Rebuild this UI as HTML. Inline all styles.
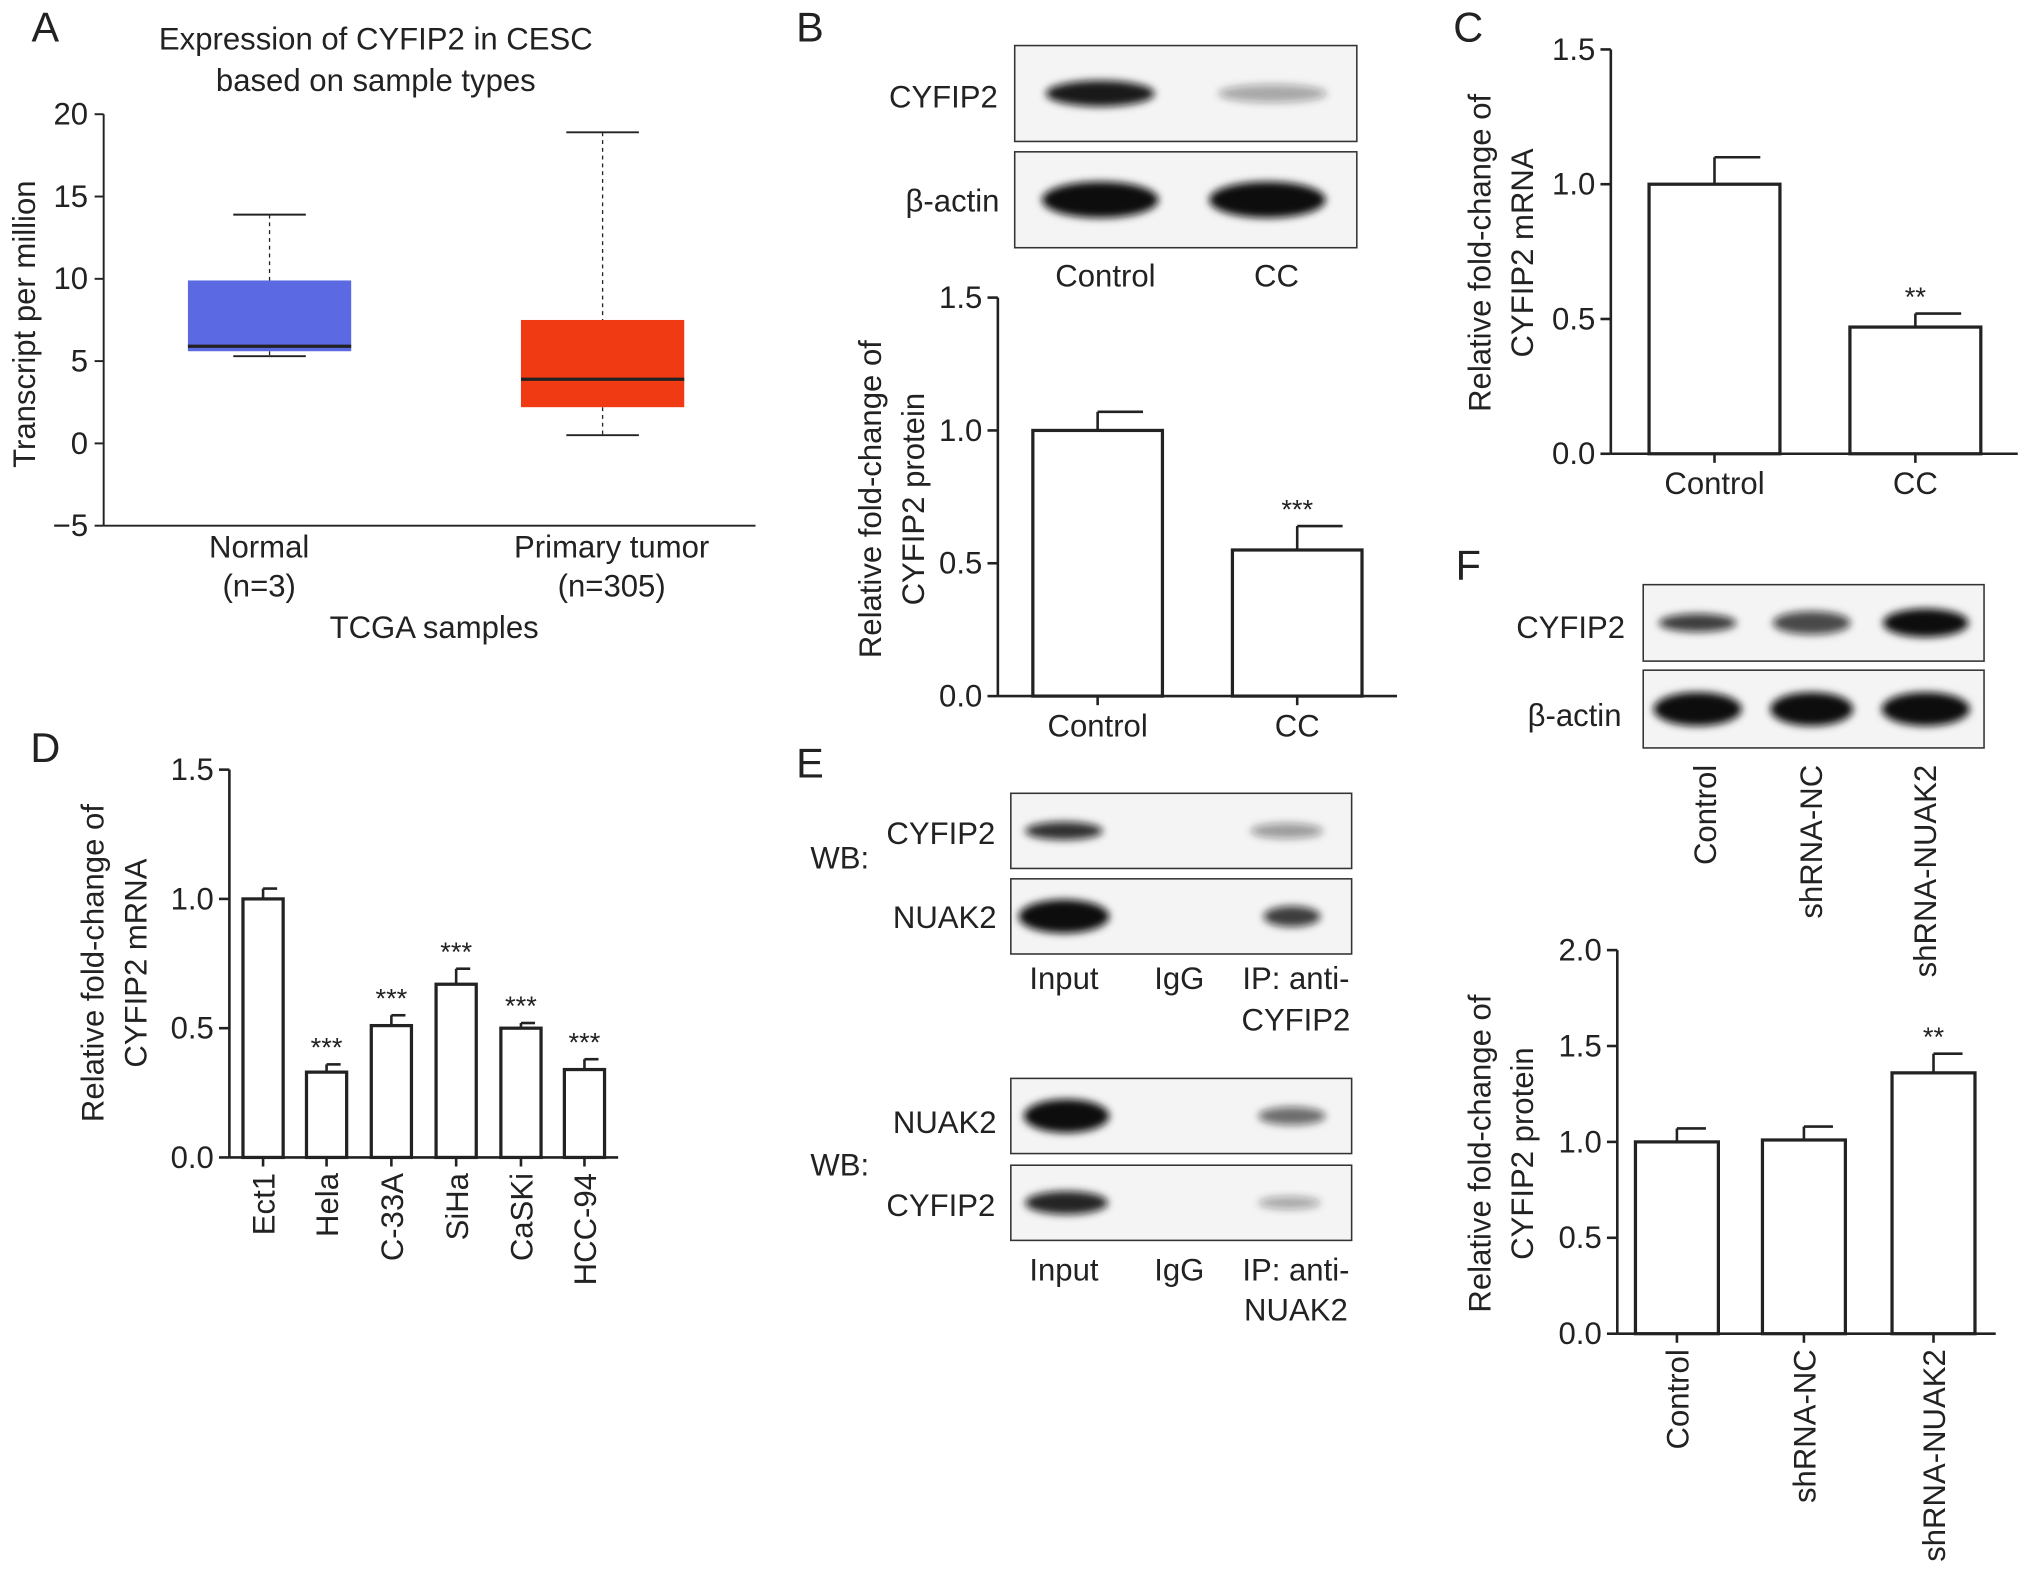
<!DOCTYPE html>
<html><head><meta charset="utf-8">
<style>
html,body{margin:0;padding:0;background:#fff;}
svg{display:block;font-family:"Liberation Sans",Arial,sans-serif;}
text{fill:#222;}
</style></head>
<body>
<svg id="fig" width="2032" height="1584" viewBox="0 0 1568 1222" xmlns="http://www.w3.org/2000/svg">
<defs>
<filter id="blur" x="-20%" y="-50%" width="140%" height="200%"><feGaussianBlur stdDeviation="3"/></filter>
</defs>
<g id="root"></g>
</svg>
<script>
// ---- Panel A data ----
const aCategories = ["Normal","Primary tumor"];
const aMin = [5.3, 0.5];
const aQ1 = [5.6, 2.2];
const aMedian = [5.9, 3.9];
const aQ3 = [9.9, 7.5];
const aMax = [13.9, 18.9];
const aTicks = [20,15,10,5,0,-5];
// ---- Panel B data ----
const bCategories = ["Control","CC"];
const bValues = [1.0, 0.55];
const bErrors = [0.07, 0.09];
const bStars = ["", "***"];
const bTicks = [0, 0.5, 1.0, 1.5];
// ---- Panel C data ----
const cCategories = ["Control","CC"];
const cValues = [1.0, 0.47];
const cErrors = [0.1, 0.05];
const cStars = ["", "**"];
const cTicks = [0, 0.5, 1.0, 1.5];
// ---- Panel D data ----
const dCategories = ["Ect1","Hela","C-33A","SiHa","CaSKi","HCC-94"];
const dValues = [1.0, 0.33, 0.51, 0.67, 0.50, 0.34];
const dErrors = [0.04, 0.03, 0.04, 0.06, 0.02, 0.04];
const dStars = ["", "***","***","***","***","***"];
const dTicks = [0, 0.5, 1.0, 1.5];
// ---- Panel F data ----
const fCategories = ["Control","shRNA-NC","shRNA-NUAK2"];
const fValues = [1.0, 1.01, 1.36];
const fErrors = [0.07, 0.07, 0.1];
const fStars = ["", "", "**"];
const fTicks = [0, 0.5, 1.0, 1.5, 2.0];

const FS=24;
const NS="http://www.w3.org/2000/svg";
const root=document.getElementById('root');
function el(tag, attrs, parent){const e=document.createElementNS(NS,tag);for(const k in attrs)e.setAttribute(k,attrs[k]);(parent||root).appendChild(e);return e;}
function txt(x,y,s,size,anchor,parent,rot){const t=el('text',{x:x,y:y,'font-size':size,'text-anchor':anchor||'middle'},parent);if(rot)t.setAttribute('transform','rotate('+rot+' '+x+' '+y+')');t.textContent=s;return t;}
function line(x1,y1,x2,y2,w,parent){return el('line',{x1:x1,y1:y1,x2:x2,y2:y2,stroke:'#222','stroke-width':w||2},parent);}

// panel letters
[["A",35,32],["B",625,32],["C",1133,32],["D",35,588],["E",625,600],["F",1133,447]].forEach(p=>{
 const t=txt(p[1],p[2],p[0],32,'middle');
 
 
});

// ---- Panel A ----
(function(){
 const g=el('g',{});
 
 
 const y0=342, k=12.7, x0=80, x1=583;
 const Y=v=>y0-v*k;
 const centers=[208,465], halfW=63, colors=["#5b69e3","#f03a14"];
 line(x0,Y(20),x0,Y(-5),1.5,g); line(x0,Y(-5),x1,Y(-5),1.5,g);
 aTicks.forEach(t=>{line(x0-7,Y(t),x0,Y(t),1.5,g);txt(x0-12,Y(t)+8,t<0?"\u22125":String(t),FS,'end',g);});
 aCategories.forEach((c,i)=>{
  const cx=centers[i];
  el('line',{x1:cx,y1:Y(aMax[i]),x2:cx,y2:Y(aQ3[i]),stroke:'#222','stroke-width':1,'stroke-dasharray':'3,3'},g);
  el('line',{x1:cx,y1:Y(aQ1[i]),x2:cx,y2:Y(aMin[i]),stroke:'#222','stroke-width':1,'stroke-dasharray':'3,3'},g);
  line(cx-28,Y(aMax[i]),cx+28,Y(aMax[i]),1.5,g);
  line(cx-28,Y(aMin[i]),cx+28,Y(aMin[i]),1.5,g);
  const r=el('rect',{x:cx-halfW,y:Y(aQ3[i]),width:halfW*2,height:Y(aQ1[i])-Y(aQ3[i]),fill:colors[i]},g);
  
  
  line(cx-halfW,Y(aMedian[i]),cx+halfW,Y(aMedian[i]),2.5,g);
 });
 txt(200,430,"Normal",FS,'middle',g); txt(200,460,"(n=3)",FS,'middle',g);
 txt(472,430,"Primary tumor",FS,'middle',g); txt(472,460,"(n=305)",FS,'middle',g);
 txt(335,492,"TCGA samples",FS,'middle',g);
 txt(290,38,"Expression of CYFIP2 in CESC",FS,'middle',g);
 txt(290,70,"based on sample types",FS,'middle',g);
 txt(27,250,"Transcript per million",FS,'middle',g,-90);
})();

// ---- generic bar chart ----
function barChart(name,cats,vals,errs,stars,ticks,o){
 const g=el('g',{});
 
 
 const Y=v=>o.y0-v*o.k;
 const top=ticks[ticks.length-1];
 line(o.ax,Y(top),o.ax,Y(0),2,g);
 line(o.ax,Y(0),o.xEnd,Y(0),2,g);
 ticks.forEach(t=>{line(o.ax-8,Y(t),o.ax,Y(t),2,g);txt(o.ax-12,Y(t)+8,t.toFixed(1),FS,'end',g);});
 cats.forEach((c,i)=>{
  const cx=o.centers[i], w=o.bw;
  const r=el('rect',{x:cx-w/2,y:Y(vals[i]),width:w,height:Y(0)-Y(vals[i]),fill:'#fff',stroke:'#222','stroke-width':2.5},g);
  
  
  const ye=Y(vals[i]+errs[i]);
  line(cx,Y(vals[i]),cx,ye,2,g);
  line(cx,ye,cx+w*0.35,ye,2,g);
  line(cx,Y(0),cx,Y(0)+7,2,g);
  if(stars[i]) txt(cx,ye-6,stars[i],21,'middle',g);
  if(o.rot) txt(cx+9,Y(0)+12,c,FS,'end',g,-90);
  else txt(cx,Y(0)+31,c,FS,'middle',g);
 });
 txt(o.ylx,o.ylc,"Relative fold-change of",FS,'middle',g,-90);
 txt(o.ylx+33,o.ylc,o.yl2,FS,'middle',g,-90);
}
barChart('panel-b-bar-chart',bCategories,bValues,bErrors,bStars,bTicks,{y0:537,k:205,ax:770,xEnd:1078,centers:[847,1001],bw:100,ylx:680,ylc:385,yl2:"CYFIP2 protein"});
barChart('panel-c-bar-chart',cCategories,cValues,cErrors,cStars,cTicks,{y0:350,k:208,ax:1243,xEnd:1557,centers:[1323,1478],bw:101,ylx:1150,ylc:195,yl2:"CYFIP2 mRNA"});
barChart('panel-d-bar-chart',dCategories,dValues,dErrors,dStars,dTicks,{y0:893,k:199.5,ax:177,xEnd:477,centers:[203,252,302,352,402,451],bw:31,ylx:80,ylc:743,yl2:"CYFIP2 mRNA",rot:true});
barChart('panel-f-bar-chart',fCategories,fValues,fErrors,fStars,fTicks,{y0:1029,k:148,ax:1248,xEnd:1540,centers:[1294,1392,1492],bw:64,ylx:1150,ylc:890,yl2:"CYFIP2 protein",rot:true});

// ---- blots ----
function blot(name,x,y,w,h,bands){
 const g=el('g',{});
 
 
 el('rect',{x:x,y:y,width:w,height:h,fill:'#f4f4f4',stroke:'#333','stroke-width':1.2},g);
 bands.forEach(b=>{el('ellipse',{cx:b[0],cy:y+h/2,rx:b[1],ry:b[2],fill:'#111','fill-opacity':b[3],filter:'url(#blur)'},g);});
}
// B
blot('blot-b-cyfip2',783,35,264,74,[[849,42,10,0.95],[982,42,7,0.35]]);
blot('blot-b-actin',783,117,264,74,[[849,45,14,1],[978,45,14,1]]);
txt(728,83,"CYFIP2",FS,'middle'); txt(735,163,"\u03b2-actin",FS,'middle');
txt(853,221,"Control",FS,'middle'); txt(985,221,"CC",FS,'middle');
// E
blot('blot-e1-cyfip2',780,612,263,58,[[821,30,7,0.85],[993,28,6,0.4]]);
blot('blot-e1-nuak2',780,678,263,58,[[821,35,13,1],[997,22,8,0.8]]);
txt(648,670,"WB:",FS,'middle'); txt(726,651,"CYFIP2",FS,'middle'); txt(729,716,"NUAK2",FS,'middle');
txt(821,763,"Input",FS,'middle'); txt(910,763,"IgG",FS,'middle'); txt(1000,763,"IP: anti-",FS,'middle'); txt(1000,795,"CYFIP2",FS,'middle');
blot('blot-e2-nuak2',780,832,263,58,[[823,33,13,1],[997,26,7,0.6]]);
blot('blot-e2-cyfip2',780,899,263,58,[[823,32,9,0.9],[995,24,5,0.35]]);
txt(648,907,"WB:",FS,'middle'); txt(729,874,"NUAK2",FS,'middle'); txt(726,938,"CYFIP2",FS,'middle');
txt(821,988,"Input",FS,'middle'); txt(910,988,"IgG",FS,'middle'); txt(1000,988,"IP: anti-",FS,'middle'); txt(1000,1019,"NUAK2",FS,'middle');
// F
blot('blot-f-cyfip2',1268,451,263,59,[[1310,30,7,0.8],[1398,30,9,0.75],[1486,33,11,1]]);
blot('blot-f-actin',1268,517,263,60,[[1310,34,13,1],[1398,32,13,1],[1486,34,13,1]]);
txt(1212,492,"CYFIP2",FS,'middle'); txt(1215,560,"\u03b2-actin",FS,'middle');
txt(1324,590,"Control",FS,'end',null,-90);
txt(1406,590,"shRNA-NC",FS,'end',null,-90);
txt(1494,590,"shRNA-NUAK2",FS,'end',null,-90);
</script>
</body></html>
